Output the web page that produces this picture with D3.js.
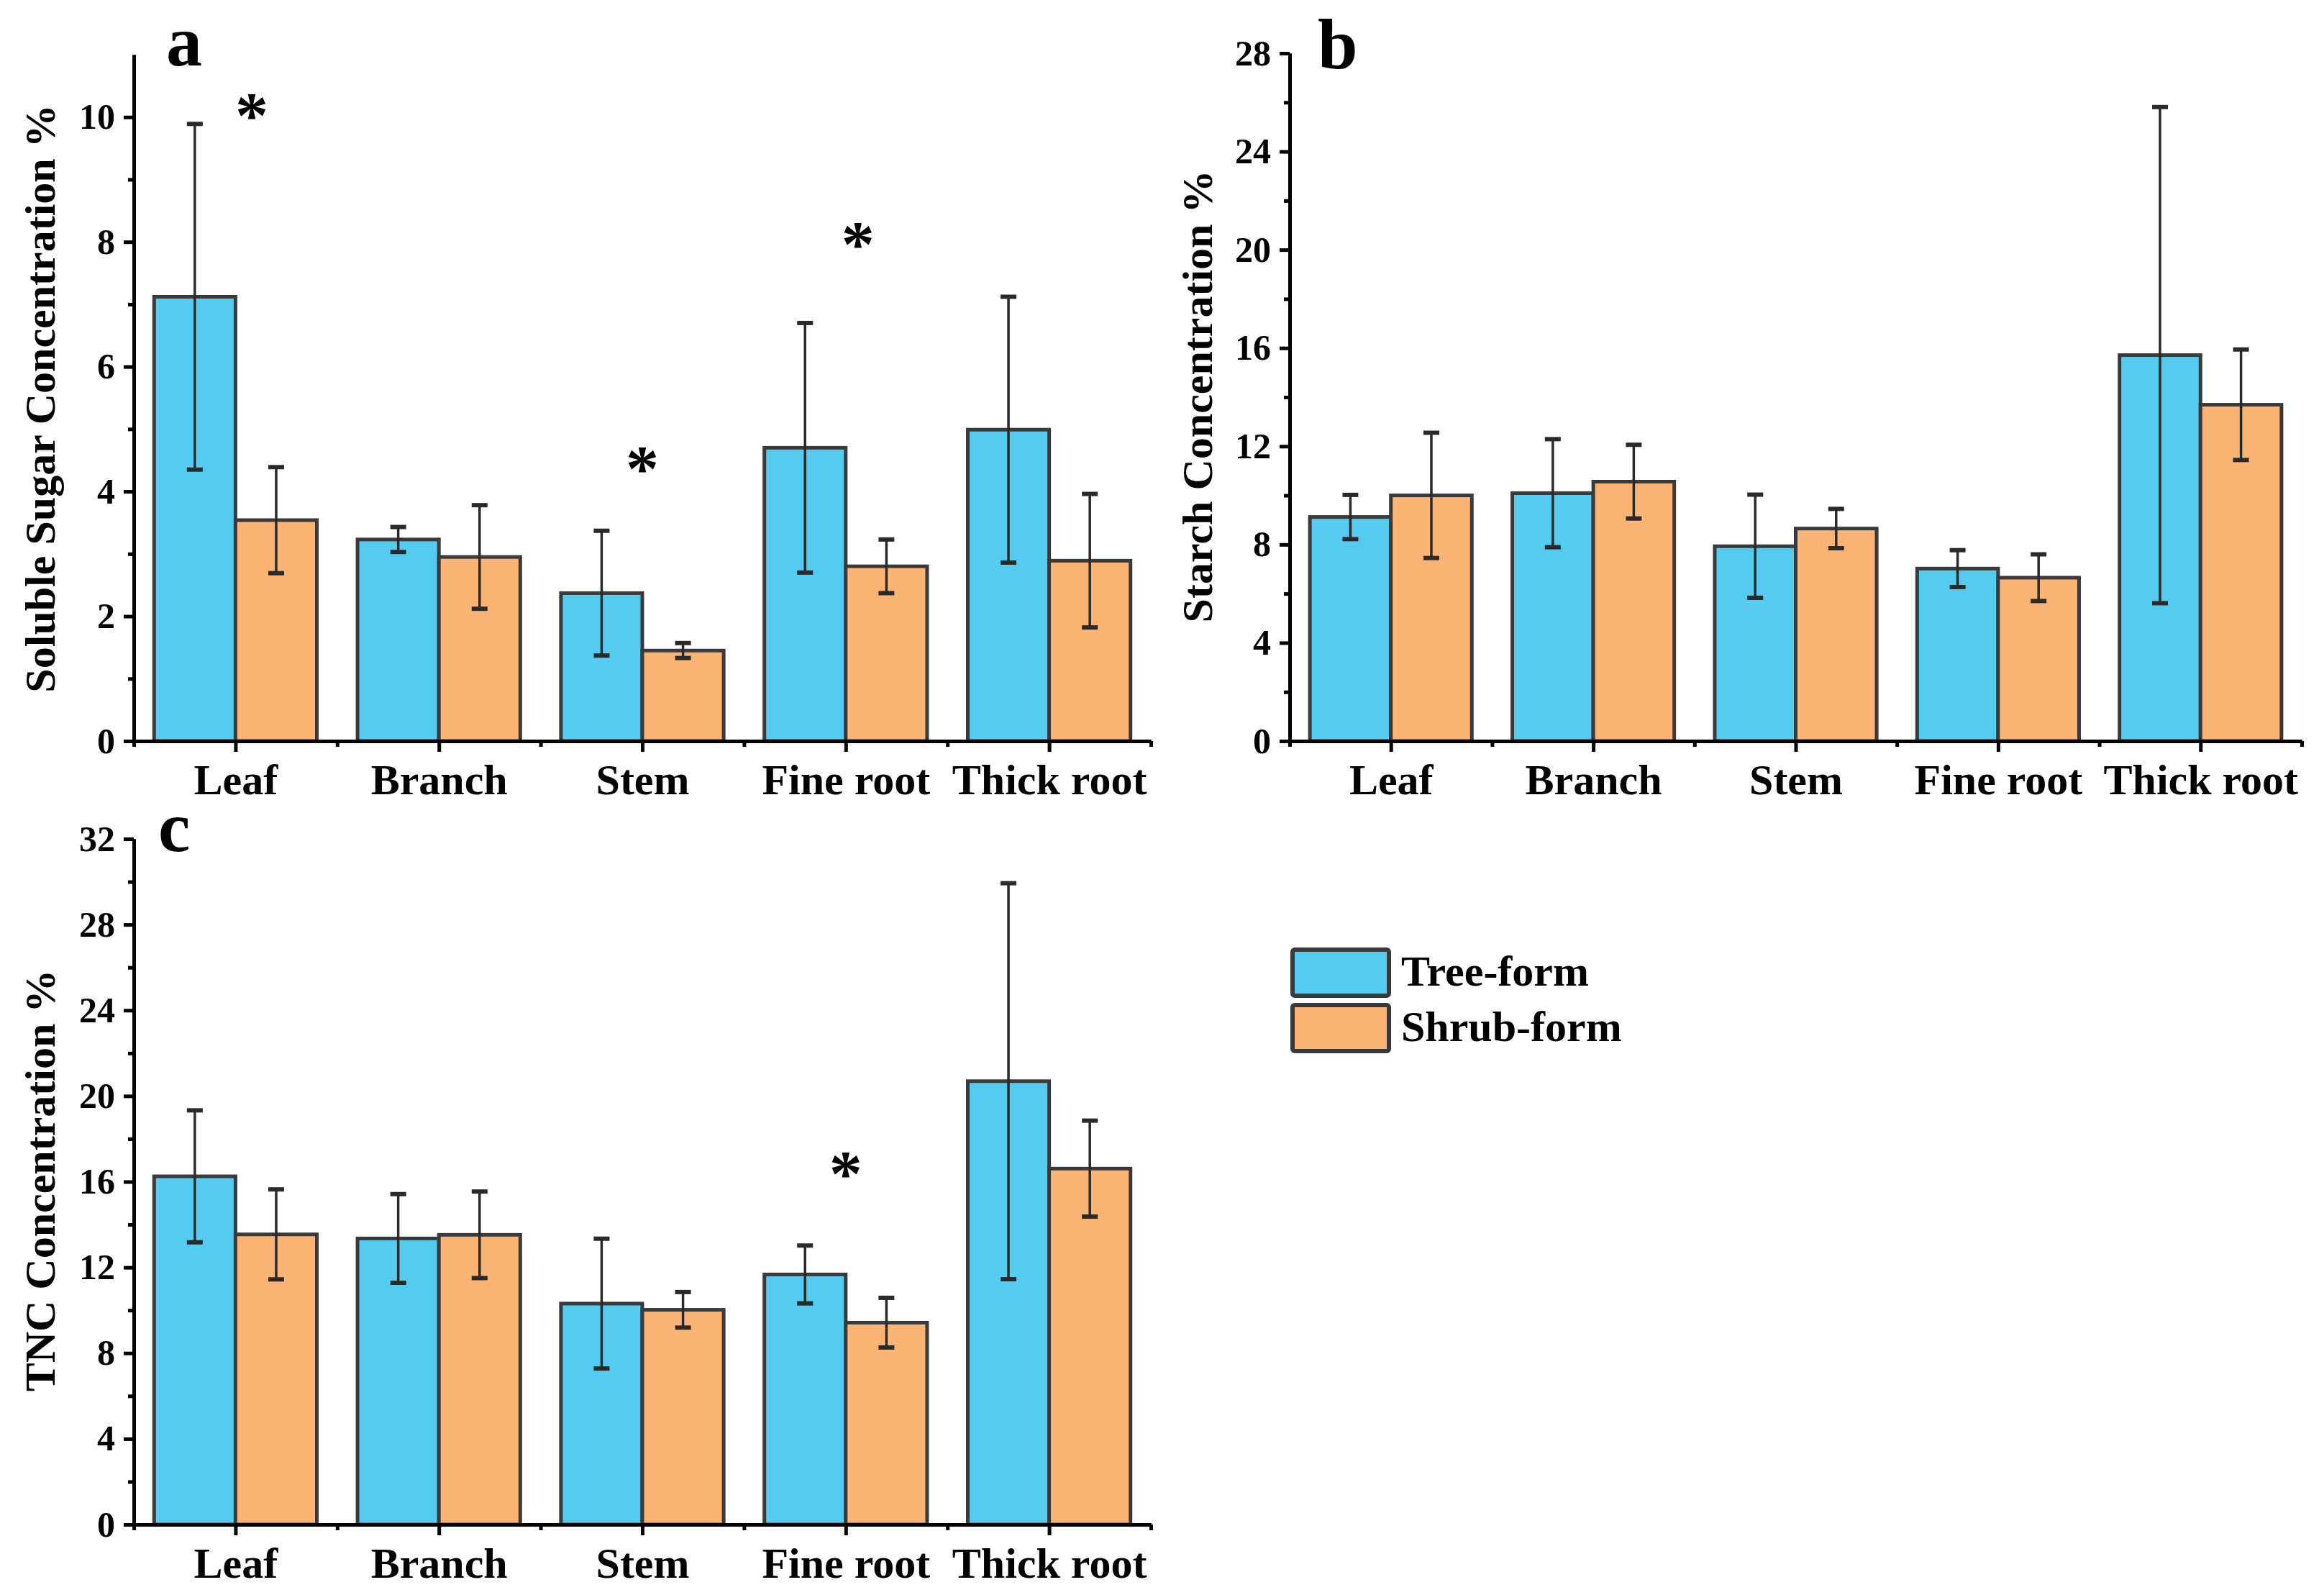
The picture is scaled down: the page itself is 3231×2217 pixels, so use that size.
<!DOCTYPE html>
<html>
<head>
<meta charset="utf-8">
<script src="https://cdn.jsdelivr.net/npm/d3@7"></script>
<style>
html,body{margin:0;padding:0;background:#fff;}
svg text{font-family:"Liberation Serif","Times New Roman",serif;font-weight:bold;fill:#000;}
</style>
</head>
<body>
<svg id="chart" width="3231" height="2217"></svg>
<script>
// ---------- DATA ----------
const categories = ["Leaf", "Branch", "Stem", "Fine root", "Thick root"];
const seriesNames = ["Tree-form", "Shrub-form"];
const seriesColors = ["#55CBF0", "#FBB474"];

const sugarTree = [7.12, 3.23, 2.37, 4.70, 4.99];
const sugarTreeErr = [2.77, 0.20, 1.00, 2.00, 2.13];
const sugarShrub = [3.54, 2.95, 1.45, 2.80, 2.89];
const sugarShrubErr = [0.85, 0.83, 0.12, 0.43, 1.07];

const starchTree = [9.12, 10.09, 7.93, 7.02, 15.71];
const starchTreeErr = [0.90, 2.20, 2.10, 0.75, 10.10];
const starchShrub = [10.00, 10.56, 8.65, 6.65, 13.69];
const starchShrubErr = [2.55, 1.50, 0.80, 0.95, 2.25];

const tncTree = [16.25, 13.35, 10.31, 11.67, 20.69];
const tncTreeErr = [3.08, 2.07, 3.03, 1.35, 9.24];
const tncShrub = [13.54, 13.52, 10.02, 9.42, 16.61];
const tncShrubErr = [2.10, 2.02, 0.83, 1.16, 2.24];

// significance markers: category index, offset (category units), y value
const sugarStars = [{cat: 0, dx: 0.08, y: 10.14}, {cat: 2, dx: 0.0, y: 4.47}, {cat: 3, dx: 0.06, y: 8.07}];
const starchStars = [];
const tncStars = [{cat: 3, dx: 0.0, y: 16.68}];

const sugarTicks = [0, 2, 4, 6, 8, 10];
const starchTicks = [0, 4, 8, 12, 16, 20, 24, 28];
const tncTicks = [0, 4, 8, 12, 16, 20, 24, 28, 32];

// ---------- DRAW ----------
const svg = d3.select("#chart");
const font = '"Liberation Serif","Times New Roman",serif';

function panel(cfg) {
  const g = svg.append("g");
  const x = d3.scaleLinear().domain([0.5, categories.length + 0.5]).range([cfg.left, cfg.right]);
  const y = d3.scaleLinear().domain([0, cfg.ymax]).range([cfg.y0, cfg.ytop]);
  const bw = 0.4;
  const series = [
    {vals: cfg.tree, errs: cfg.treeErr, off: -0.2, color: seriesColors[0]},
    {vals: cfg.shrub, errs: cfg.shrubErr, off: 0.2, color: seriesColors[1]}
  ];
  series.forEach(s => {
    g.selectAll(null).data(s.vals).enter().append("rect")
      .attr("x", (d, i) => x(i + 1 + s.off - bw / 2))
      .attr("width", (d, i) => x(i + 1 + s.off + bw / 2) - x(i + 1 + s.off - bw / 2))
      .attr("y", d => y(d))
      .attr("height", d => y(0) - y(d))
      .attr("fill", s.color)
      .attr("stroke", "#3a3a3a")
      .attr("stroke-width", 5);
  });
  series.forEach(s => {
    const eb = g.selectAll(null).data(s.vals).enter().append("g");
    eb.append("line")
      .attr("x1", (d, i) => x(i + 1 + s.off)).attr("x2", (d, i) => x(i + 1 + s.off))
      .attr("y1", (d, i) => y(d + s.errs[i])).attr("y2", (d, i) => y(d - s.errs[i]))
      .attr("stroke", "#2a2a2a").attr("stroke-width", 3.5);
    [1, -1].forEach(sign => {
      eb.append("line")
        .attr("x1", (d, i) => x(i + 1 + s.off) - 11).attr("x2", (d, i) => x(i + 1 + s.off) + 11)
        .attr("y1", (d, i) => y(d + sign * s.errs[i])).attr("y2", (d, i) => y(d + sign * s.errs[i]))
        .attr("stroke", "#2a2a2a").attr("stroke-width", 6);
    });
  });
  // stars
  g.selectAll(null).data(cfg.stars).enter().append("text")
    .attr("x", d => x(d.cat + 1 + d.dx))
    .attr("y", d => y(d.y) + 40)
    .attr("text-anchor", "middle")
    .style("font-size", "92px")
    .text("*");

  // axes
  const xAxis = g.append("g").attr("transform", `translate(0,${cfg.y0})`)
    .call(d3.axisBottom(x).tickValues(d3.range(1, categories.length + 1))
      .tickFormat((d) => categories[d - 1]).tickSize(15).tickSizeOuter(0).tickPadding(14));
  const xMinor = g.append("g").attr("transform", `translate(0,${cfg.y0})`)
    .call(d3.axisBottom(x).tickValues(d3.range(0.5, categories.length + 1, 1))
      .tickFormat("").tickSize(8).tickSizeOuter(0));
  const yMinorVals = d3.range(cfg.minorStep, cfg.ymax, cfg.minorStep).filter(v => !cfg.ticks.some(t => Math.abs(t - v) < 1e-6));
  const yMinor = g.append("g").attr("transform", `translate(${cfg.left},0)`)
    .call(d3.axisLeft(y).tickValues(yMinorVals).tickFormat("").tickSize(8).tickSizeOuter(0));
  const yAxis = g.append("g").attr("transform", `translate(${cfg.left},0)`)
    .call(d3.axisLeft(y).tickValues(cfg.ticks).tickFormat(d3.format("d")).tickSize(14).tickSizeOuter(0).tickPadding(12));
  [xAxis, xMinor, yAxis, yMinor].forEach(a => {
    a.select(".domain").attr("stroke", "#000").attr("stroke-width", 5);
    a.selectAll(".tick line").attr("stroke", "#000").attr("stroke-width", 5);
  });
  xAxis.selectAll(".tick text").style("font-family", font).style("font-weight", "bold")
    .style("font-size", "60px").attr("fill", "#000").attr("dy", "0").attr("y", 74).attr("dominant-baseline", "alphabetic");
  yAxis.selectAll(".tick text").style("font-family", font).style("font-weight", "bold")
    .style("font-size", "50px").attr("fill", "#000");

  // y title
  g.append("text")
    .attr("transform", `translate(${cfg.titleX},${cfg.titleY}) rotate(-90)`)
    .attr("text-anchor", "middle")
    .attr("dominant-baseline", "central")
    .style("font-size", "60px")
    .text(cfg.title);
  // panel letter
  g.append("text")
    .attr("x", cfg.letterX).attr("y", cfg.letterY)
    .style("font-size", "100px")
    .text(cfg.letter);
}

panel({left: 186, right: 1600, y0: 1030, ytop: 76, ymax: 11, ticks: sugarTicks, minorStep: 1,
  tree: sugarTree, treeErr: sugarTreeErr, shrub: sugarShrub, shrubErr: sugarShrubErr, stars: sugarStars,
  title: "Soluble Sugar Concentration %", titleX: 56, titleY: 554, letter: "a", letterX: 231, letterY: 91});
panel({left: 1793, right: 3200, y0: 1030, ytop: 74, ymax: 28, ticks: starchTicks, minorStep: 2,
  tree: starchTree, treeErr: starchTreeErr, shrub: starchShrub, shrubErr: starchShrubErr, stars: starchStars,
  title: "Starch Concentration %", titleX: 1665, titleY: 551, letter: "b", letterX: 1832, letterY: 95});
panel({left: 186, right: 1600, y0: 2119, ytop: 1166, ymax: 32, ticks: tncTicks, minorStep: 2,
  tree: tncTree, treeErr: tncTreeErr, shrub: tncShrub, shrubErr: tncShrubErr, stars: tncStars,
  title: "TNC Concentration %", titleX: 56, titleY: 1641, letter: "c", letterX: 220, letterY: 1183});

// legend
const leg = svg.append("g");
seriesNames.forEach((name, i) => {
  leg.append("rect").attr("x", 1797).attr("y", 1320 + i * 77).attr("width", 134).attr("height", 64)
    .attr("rx", 3).attr("fill", seriesColors[i]).attr("stroke", "#3a3a3a").attr("stroke-width", 6);
  leg.append("text").attr("x", 1948).attr("y", 1370 + i * 77)
    .style("font-size", "60px").text(name);
});
</script>
</body>
</html>
